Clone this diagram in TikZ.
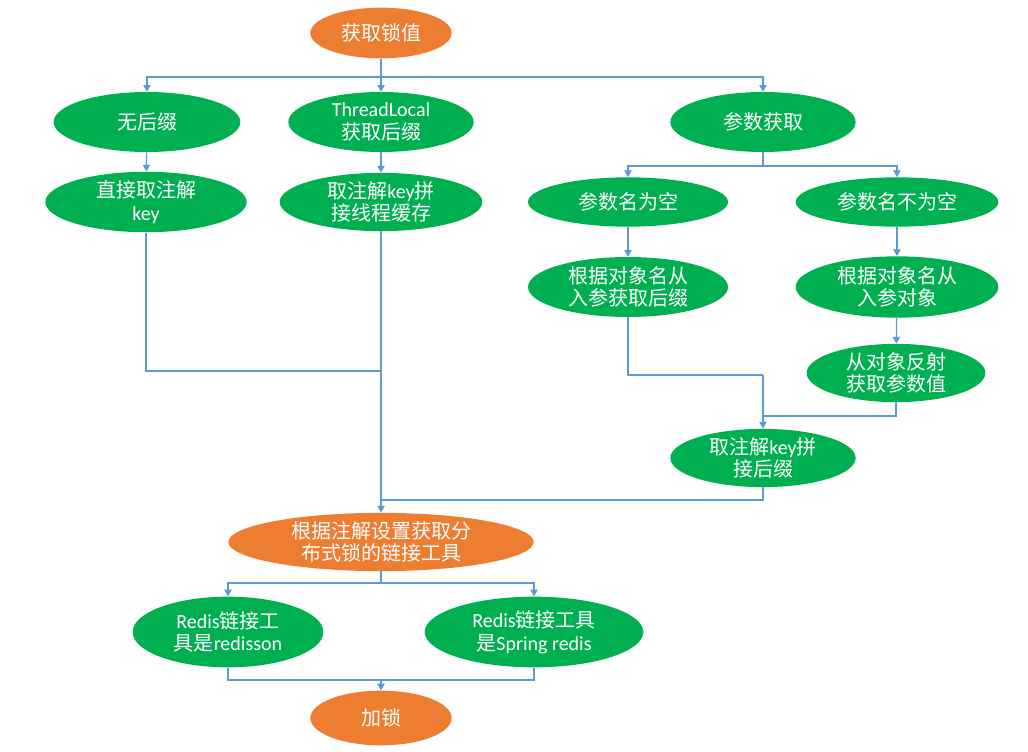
\documentclass[tikz,border=0pt]{standalone}
\usepackage{fontspec}
\setmainfont{Noto Sans CJK SC}
\newfontfamily\lat{Carlito}
\usetikzlibrary{shapes.geometric,arrows.meta}
\definecolor{grn}{HTML}{00B050}
\definecolor{org}{HTML}{ED7D31}
\definecolor{wire}{HTML}{5B9BD5}
\tikzset{
  blob/.style={ellipse, inner sep=0pt, align=center, text=white,
    font=\fontsize{15}{17}\selectfont},
  gblob/.style={blob, fill=grn},
  oblob/.style={blob, fill=org},
  line/.style={draw=wire, line width=0.9pt},
  arr/.style={line, -{Triangle[width=5.5pt,length=5pt]}}
}

\begin{document}
\begin{tikzpicture}[x=0.75pt,y=-0.75pt]
        \useasboundingbox (0,0) rectangle (1028,752);
        \node[oblob, minimum width=106pt, minimum height=38pt] (getval) at (381,33) {获取锁值};

        \node[gblob, minimum width=140pt, minimum height=45pt] (nosuffix) at (147,122) {无后缀};
        \node[gblob, minimum width=139pt, minimum height=45pt] (tlocal) at (381,122) {{\lat ThreadLocal}\\获取后缀};
        \node[gblob, minimum width=139pt, minimum height=45pt] (param) at (763,122) {参数获取};

        \node[gblob, minimum width=151pt, minimum height=37pt] (directkey) at (146,202) {直接取注解\\{\lat key}};
        \node[gblob, minimum width=152pt, minimum height=37pt] (threadkey) at (381,202) {取注解{\lat key}拼\\接线程缓存};
        \node[gblob, minimum width=150pt, minimum height=37pt] (nameempty) at (628,202) {参数名为空};
        \node[gblob, minimum width=152pt, minimum height=37pt] (namegiven) at (897,202) {参数名不为空};

        \node[gblob, minimum width=150pt, minimum height=45pt] (bynamesuffix) at (628,287) {根据对象名从\\入参获取后缀};
        \node[gblob, minimum width=152pt, minimum height=46pt] (bynameobj) at (897,287) {根据对象名从\\入参对象};
        \node[gblob, minimum width=134pt, minimum height=42pt] (reflect) at (896,373) {从对象反射\\获取参数值};
        \node[gblob, minimum width=139pt, minimum height=39pt] (joinkey) at (763,458) {取注解{\lat key}拼\\接后缀};

        \node[oblob, minimum width=229pt, minimum height=39pt] (toolsel) at (381,542) {根据注解设置获取分\\布式锁的链接工具};
        \node[gblob, minimum width=143pt, minimum height=53pt] (redisson) at (228,632) {{\lat Redis}链接工\\具是{\lat redisson}};
        \node[gblob, minimum width=164pt, minimum height=53pt] (springredis) at (534,632) {{\lat Redis}链接工具\\是{\lat Spring redis}};
        \node[oblob, minimum width=106pt, minimum height=41pt] (lock) at (381,718) {加锁};

        \coordinate (j1) at (381,77);
        \coordinate (j2) at (381,371);
        \coordinate (j3) at (381,500);
        \coordinate (j4) at (763,166);
        \coordinate (j5) at (763,375);
        \coordinate (j6) at (763,416);
        \coordinate (j7) at (381,583);
        \coordinate (j8) at (381,680);

        \draw[line] (getval) -- (j1);
        \draw[arr] (j1) -| (nosuffix);
        \draw[arr] (j1) -- (tlocal);
        \draw[arr] (j1) -| (param);
        \draw[arr] (nosuffix) -- (directkey);
        \draw[arr] (tlocal) -- (threadkey);

        \draw[line] (directkey) |- (j2);
        \draw[arr] (threadkey) -- (toolsel);
        \draw[line] (joinkey) |- (j3);

        \draw[line] (param) -- (j4);
        \draw[arr] (j4) -| (nameempty);
        \draw[arr] (j4) -| (namegiven);
        \draw[arr] (nameempty) -- (bynamesuffix);
        \draw[arr] (namegiven) -- (bynameobj);
        \draw[arr] (bynameobj) -- (reflect);
        \draw[line] (bynamesuffix) |- (j5);
        \draw[line] (reflect) |- (j6);
        \draw[arr] (j5) -- (joinkey);

        \draw[line] (toolsel) -- (j7);
        \draw[arr] (j7) -| (redisson);
        \draw[arr] (j7) -| (springredis);
        \draw[line] (redisson) |- (j8);
        \draw[line] (springredis) |- (j8);
        \draw[arr] (j8) -- (lock);
\end{tikzpicture}
\end{document}
